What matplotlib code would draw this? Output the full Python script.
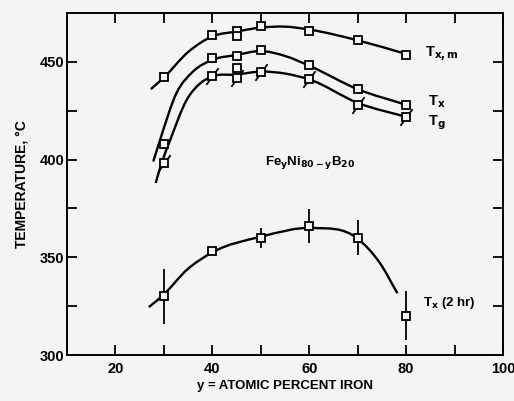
import numpy as np
import matplotlib
matplotlib.use('Agg')
import matplotlib.pyplot as plt
from matplotlib.path import Path
from matplotlib.patches import PathPatch

plt.rcParams['font.family'] = ['Liberation Sans Narrow', 'Liberation Sans', 'DejaVu Sans']
plt.rcParams['font.weight'] = 'bold'
plt.rcParams['axes.labelweight'] = 'bold'
plt.rcParams['mathtext.fontset'] = 'custom'
plt.rcParams['mathtext.rm'] = 'Liberation Sans Narrow:bold'
plt.rcParams['mathtext.default'] = 'rm'

# measured points: crystallization / glass temperatures vs iron content
y_txm = [30, 40, 45, 45, 50, 60, 70, 80]
t_txm = [442, 463.5, 466, 463, 468.5, 466, 461, 453.6]

y_tx = [30, 40, 45, 45, 50, 60, 70, 80]
t_tx = [408, 452, 453, 447, 456, 448.5, 436, 428]

y_tg = [30, 40, 45, 50, 60, 70, 80]
t_tg = [398, 442.5, 441.5, 444.7, 441, 428, 422]

y_2hr = [30, 40, 50, 60, 70, 80]
t_2hr = [330, 353, 360, 366, 360, 320]
err_2hr = [14, 0, 5, 8.5, 9, 12.5]

# hand-drawn trend curves, read as knots
cx_txm = [27.3, 30, 35, 40, 45, 50, 55, 60, 70, 80]
cy_txm = [436, 442, 455, 463, 465.5, 467.5, 468, 466.5, 461, 454]

cx_tx = [27.8, 29.2, 32.6, 36, 40, 45, 50, 55, 60, 70, 80]
cy_tx = [399, 410, 434, 445, 451, 453.5, 455.5, 453, 448, 436, 428]

cx_tg = [28.3, 29.5, 31.3, 34.7, 37.5, 40, 45, 50, 55, 60, 70, 80.5]
cy_tg = [388, 398, 410, 430.5, 439, 442.5, 443.5, 445, 444, 441, 429, 421.5]

cx_2hr = [26.9, 30, 34.7, 40, 50, 60.8, 70, 74.6, 78.2]
cy_2hr = [324.5, 331, 343.5, 352.5, 360.5, 365, 359.5, 347, 331.6]

fig = plt.figure(figsize=(5.14, 4.01), dpi=100)
fig.patch.set_facecolor('#f4f4f2')
ax = fig.add_axes([0.1304, 0.1147, 0.8482, 0.853])
ax.set_facecolor('#f4f4f2')


def smooth_curve(xs, ys):
    # cubic Hermite pieces between knots, slopes from neighbouring chords
    x = np.asarray(xs, float)
    y = np.asarray(ys, float)
    h = np.diff(x)
    s = np.diff(y) / h
    d = np.zeros_like(x)
    d[1:-1] = (s[:-1] * h[1:] + s[1:] * h[:-1]) / (h[:-1] + h[1:])
    d[0] = s[0]
    d[-1] = s[-1]
    verts = [(x[0], y[0])]
    codes = [Path.MOVETO]
    for i in range(len(x) - 1):
        verts += [(x[i] + h[i] / 3, y[i] + d[i] * h[i] / 3),
                  (x[i + 1] - h[i] / 3, y[i + 1] - d[i + 1] * h[i] / 3),
                  (x[i + 1], y[i + 1])]
        codes += [Path.CURVE4] * 3
    ax.add_patch(PathPatch(Path(verts, codes), fill=False, lw=1.7, ec='k', zorder=2))


smooth_curve(cx_txm, cy_txm)
smooth_curve(cx_tx, cy_tx)
smooth_curve(cx_tg, cy_tg)
smooth_curve(cx_2hr, cy_2hr)

sq = dict(marker='s', ms=5.5, mfc='#f4f4f2', mec='k', mew=1.3, ls='none', zorder=4)
ax.plot(y_txm, t_txm, **sq)
ax.plot(y_tx, t_tx, **sq)
slash = Path([(-0.8, -1.1), (0.8, 1.1)], [Path.MOVETO, Path.LINETO])
ax.plot(y_tg, t_tg, ls='none', marker=slash, ms=12, mec='k', mew=1.3, zorder=3)
ax.plot(y_tg, t_tg, **sq)

ax.errorbar(y_2hr, t_2hr, yerr=err_2hr, fmt='none', ecolor='k', elinewidth=1.3, capsize=0, zorder=3)
ax.plot(y_2hr, t_2hr, **sq)

ax.set_xlim(10, 100)
ax.set_ylim(300, 475)
ax.set_xticks([20, 40, 60, 80, 100])
ax.set_xticks([30, 50, 70, 90], minor=True)
ax.set_yticks([300, 350, 400, 450])
ax.set_yticks([325, 375, 425], minor=True)
ax.tick_params(which='both', direction='in', length=7, width=1.3, top=True, right=True,
               labelsize=10.5, pad=2)
ax.tick_params(axis='x', pad=5)
for s in ax.spines.values():
    s.set_linewidth(1.4)

ax.set_xlabel('y = ATOMIC PERCENT IRON', fontsize=9.5, labelpad=3)
ax.set_ylabel('TEMPERATURE, °C', fontsize=10, labelpad=8)

ax.text(83.9, 454, r'T$_{x,m}$', fontsize=10.5, va='center')
ax.text(84.5, 429.5, r'T$_x$', fontsize=10.5, va='center')
ax.text(84.5, 419, r'T$_g$', fontsize=10.5, va='center')
ax.text(50.9, 398.5, r'Fe$_y$Ni$_{80-y}$B$_{20}$', fontsize=9.5, va='center')
ax.text(83.5, 326.5, r'T$_x$ (2 hr)', fontsize=9.5, va='center')

fig.savefig('out.png', dpi=100, facecolor=fig.get_facecolor())
